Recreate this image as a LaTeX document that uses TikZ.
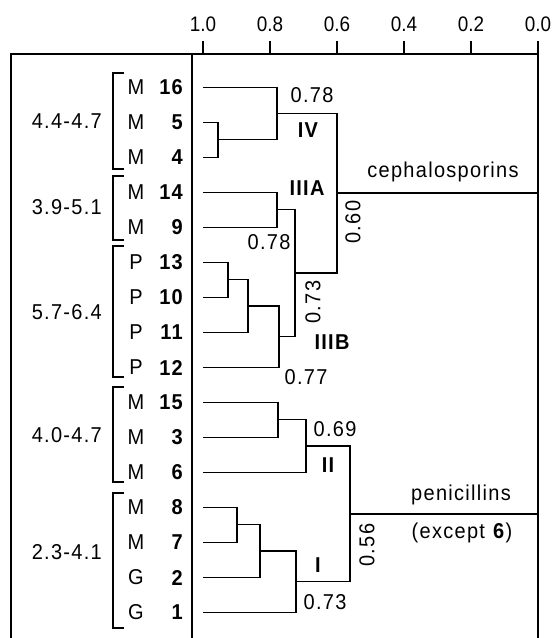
\documentclass[tikz,border=0pt]{standalone}
\usepackage{fontspec}
\usepackage{graphicx}
\setmainfont[LetterSpace=6,FakeStretch=0.93]{Liberation Sans}
\newfontfamily\axisfam[FakeStretch=0.9]{Liberation Sans}
\newcommand\bfnt{\fontsize{21.5}{25}\selectfont}
\newcommand\axfnt{\axisfam\fontsize{21}{24}\selectfont}
\tikzset{
  txt/.style={font=\bfnt, inner sep=0pt},
  bnum/.style={font=\bfnt\bfseries, inner sep=0pt, anchor=east},
  rom/.style={font=\bfnt\bfseries, inner sep=0pt},
  grp/.style={font=\bfnt, inner sep=0pt, anchor=east},
  axl/.style={font=\axfnt, inner sep=0pt},
  tree/.style={line width=1.8pt},
  frm/.style={line width=2pt},
  brk/.style={line width=1.3pt},
}
\begin{document}
\begin{tikzpicture}[x=1pt,y=-1pt]
\useasboundingbox (0,0) rectangle (557,638);
% frame and axis
\coordinate (fTL) at (11,54);
\coordinate (fBL) at (11,638);
\coordinate (tR) at (538,54);
\coordinate (dT) at (192,54);
\coordinate (dB) at (192,638);
\coordinate (rT) at (538,41);
\coordinate (rB) at (538,638);
\draw[frm] (fBL) -- (fTL) -- (tR);
\draw[frm] (dT) -- (dB);
\draw[frm] (rT) -- (rB);
\foreach \v/\x in {1.0/203,0.8/270,0.6/337,0.4/404,0.2/471}{
  \coordinate (tt\x) at (\x,41);
  \coordinate (tb\x) at (\x,54);
  \draw[frm] (tt\x) -- (tb\x);
}
\foreach \v/\x in {1.0/203,0.8/270,0.6/337,0.4/404,0.2/471,0.0/538}{
  \node[axl] (ax\x) at (\x,24.5) {\v};
}
% leaves
\foreach \Lt/\N [count=\i from 0] in {M/16,M/5,M/4,M/14,M/9,P/13,P/10,P/11,P/12,M/15,M/3,M/6,M/8,M/7,G/2,G/1}{
  \pgfmathsetmacro\yy{87.5+35*\i}
  \coordinate (l\N) at (203,\yy);
  \node[txt] (let\N) at (136,\yy) {\Lt};
  \node[bnum] (num\N) at (183,\yy) {\N};
}
% brackets
\draw[brk] (124,73) -- (113,73) -- (113,169) -- (124,169);
\draw[brk] (124,176) -- (113,176) -- (113,240) -- (124,240);
\draw[brk] (124,246) -- (113,246) -- (113,377) -- (124,377);
\draw[brk] (124,387) -- (113,387) -- (113,482) -- (124,482);
\draw[brk] (124,493) -- (113,493) -- (113,628) -- (124,628);
\node[grp] (g1) at (102,121) {4.4-4.7};
\node[grp] (g2) at (102,207) {3.9-5.1};
\node[grp] (g3) at (102,312) {5.7-6.4};
\node[grp] (g4) at (102,435) {4.0-4.7};
\node[grp] (g5) at (102,552) {2.3-4.1};
% cluster points
\coordinate (a) at (218,139.5);
\coordinate (b) at (277,113.5);
\coordinate (c) at (277,209.5);
\coordinate (d) at (228,279.5);
\coordinate (e) at (248,305.75);
\coordinate (f) at (279,336.4);
\coordinate (g) at (295,273);
\coordinate (h) at (337,193.2);
\coordinate (i) at (278,419.5);
\coordinate (j) at (306,445.75);
\coordinate (k) at (237,524.5);
\coordinate (l) at (260,550.75);
\coordinate (m) at (296,581.4);
\coordinate (n) at (350,513.6);
\coordinate (hR) at (538,193.2);
\coordinate (nR) at (538,513.6);
\draw[tree] (l5) -| (a) (l4) -| (a);
\draw[tree] (l16) -| (b) (a) -| (b);
\draw[tree] (l14) -| (c) (l9) -| (c);
\draw[tree] (l13) -| (d) (l10) -| (d);
\draw[tree] (d) -| (e) (l11) -| (e);
\draw[tree] (e) -| (f) (l12) -| (f);
\draw[tree] (c) -| (g) (f) -| (g);
\draw[tree] (b) -| (h) (g) -| (h);
\draw[tree] (h) -- (hR);
\draw[tree] (l15) -| (i) (l3) -| (i);
\draw[tree] (i) -| (j) (l6) -| (j);
\draw[tree] (l8) -| (k) (l7) -| (k);
\draw[tree] (k) -| (l) (l2) -| (l);
\draw[tree] (l) -| (m) (l1) -| (m);
\draw[tree] (j) -| (n) (m) -| (n);
\draw[tree] (n) -- (nR);
% labels
\node[txt] (v1) at (312,95) {0.78};
\node[rom] (r4) at (308,130) {IV};
\node[rom] (r3a) at (307,188) {IIIA};
\node[txt] (ceph) at (443,172) {cephalosporins};
\node[txt,rotate=90] (v2) at (353,222) {0.60};
\node[txt] (v3) at (269,242) {0.78};
\node[txt,rotate=90] (v4) at (313,302) {0.73};
\node[rom] (r3b) at (332,342) {IIIB};
\node[txt] (v5) at (306,377) {0.77};
\node[txt] (v6) at (335,429) {0.69};
\node[rom] (r2) at (328,465) {II};
\node[txt] (pen) at (461,495) {penicillins};
\node[txt] (exc) at (462,533) {(except \textbf{6})};
\node[txt,rotate=90] (v7) at (367,545) {0.56};
\node[rom] (r1) at (318,565) {I};
\node[txt] (v8) at (325,602) {0.73};
\end{tikzpicture}
\end{document}
